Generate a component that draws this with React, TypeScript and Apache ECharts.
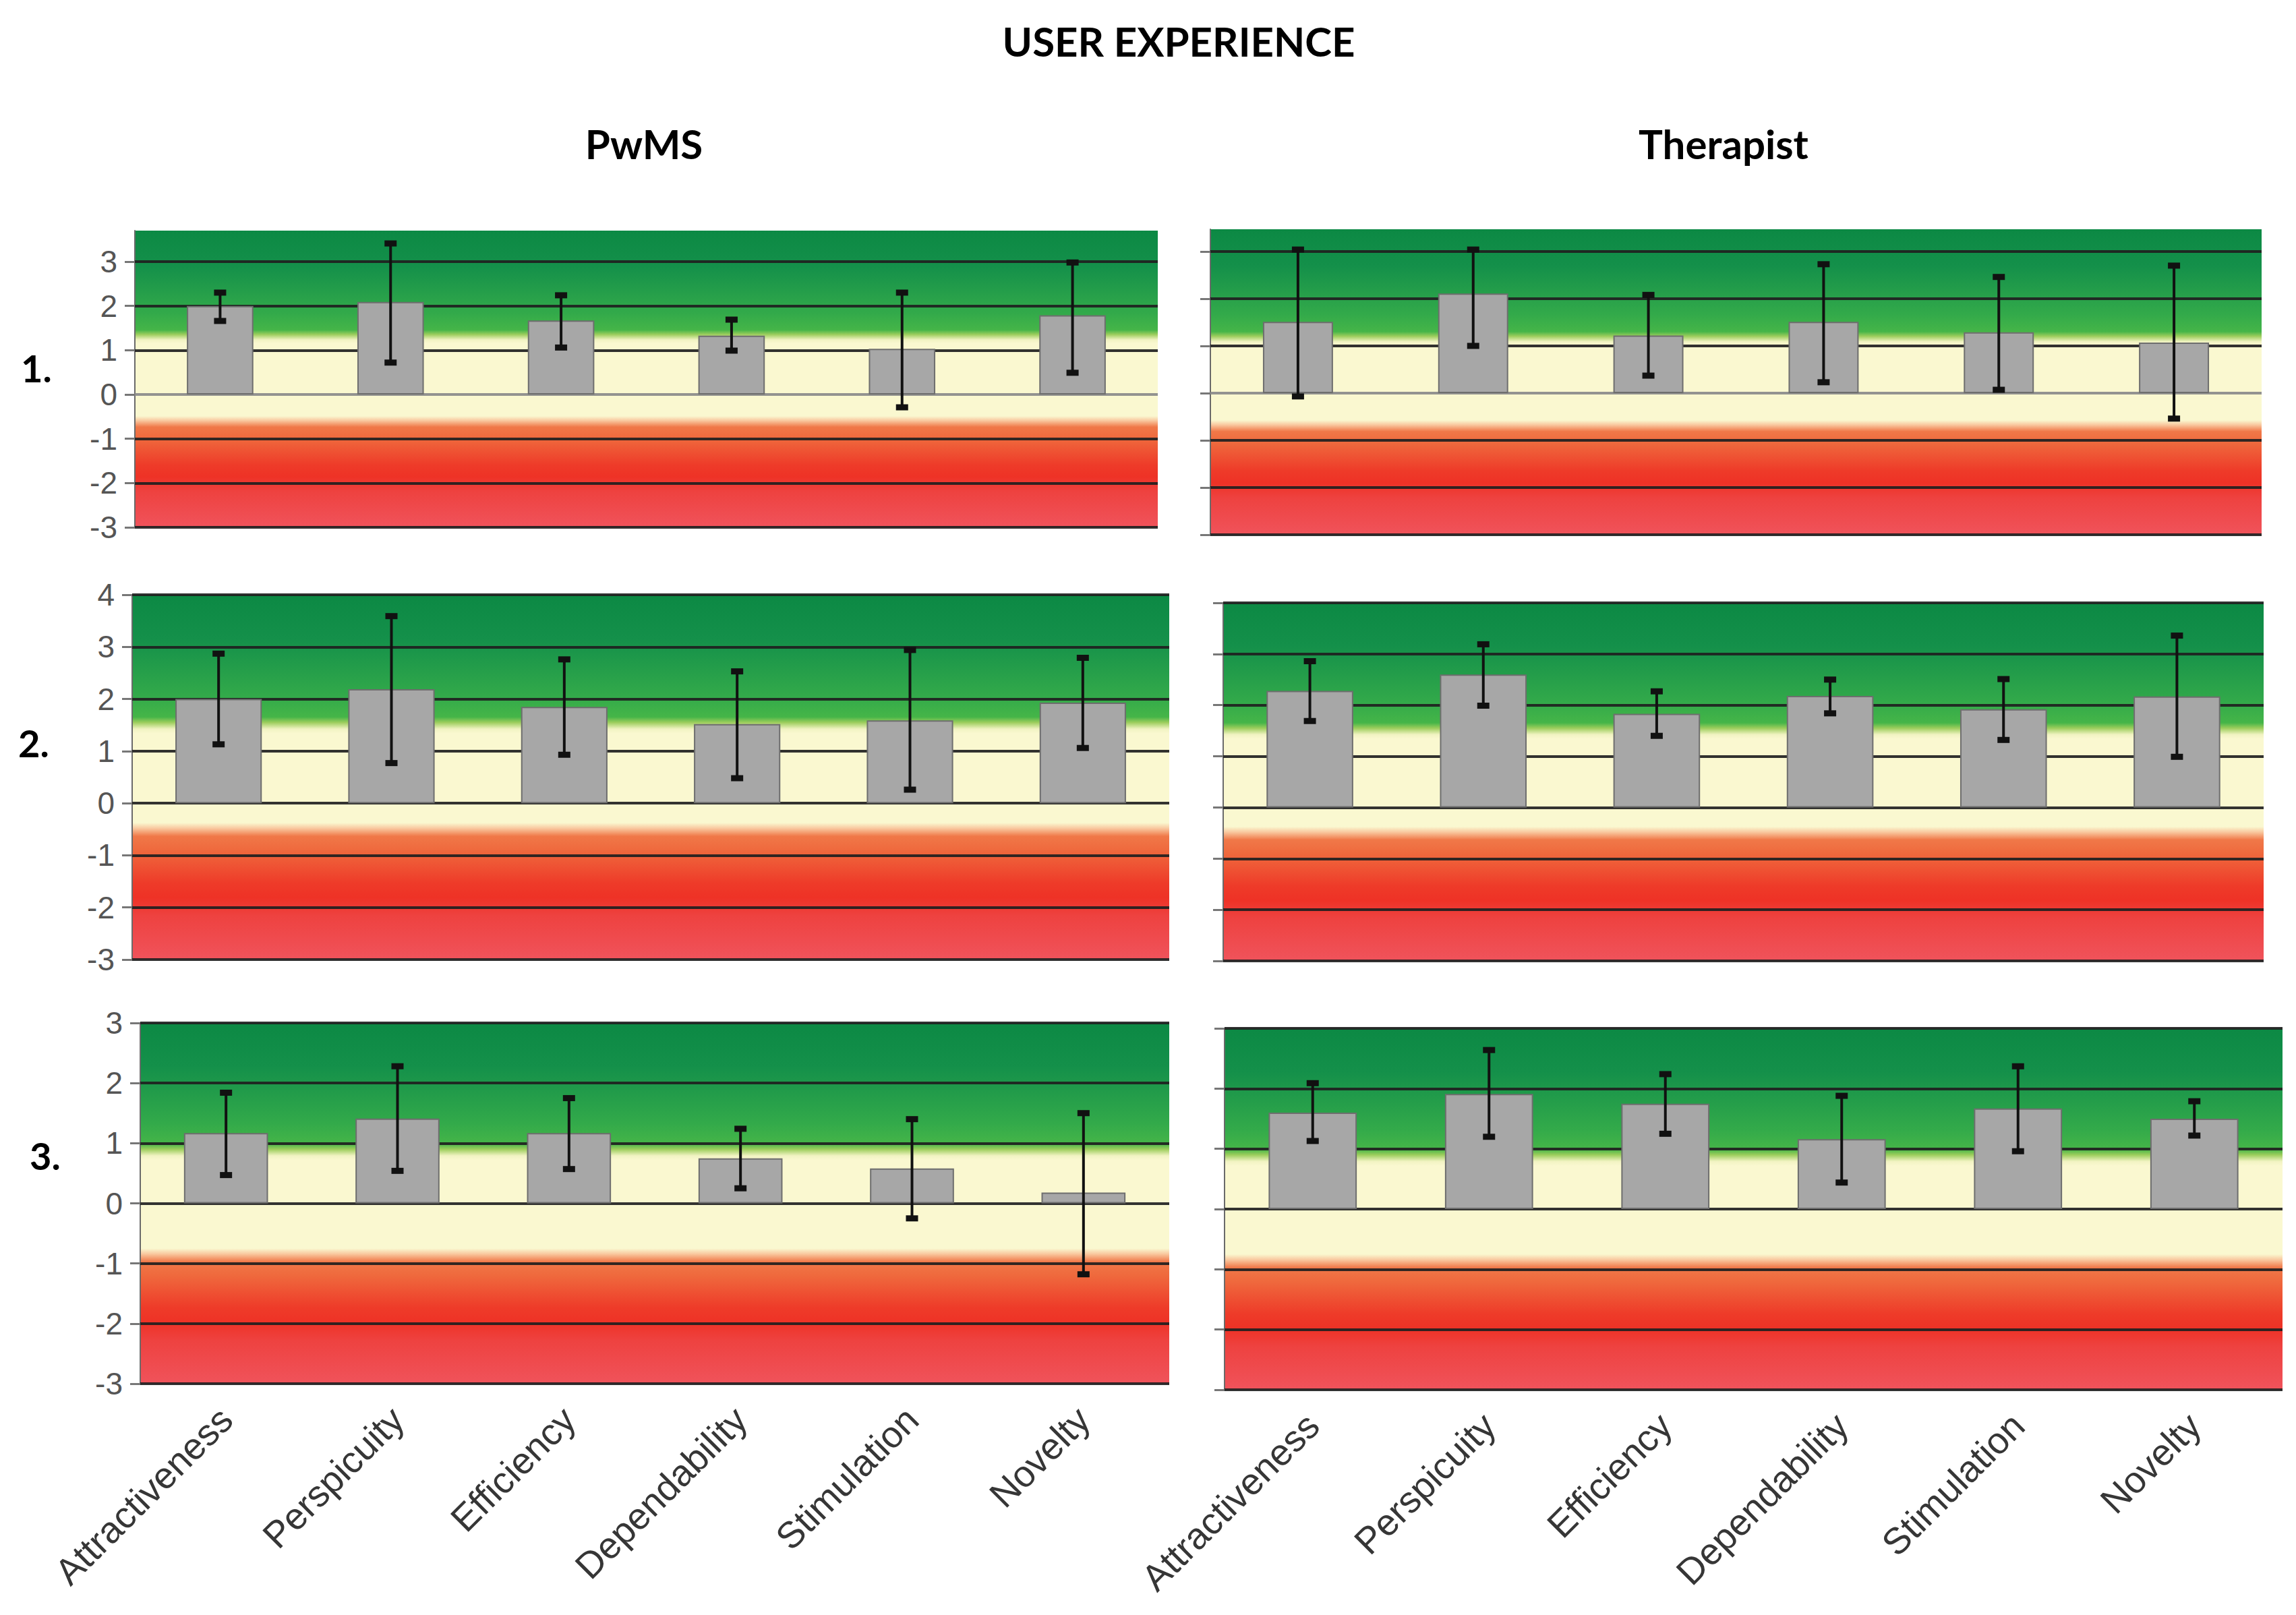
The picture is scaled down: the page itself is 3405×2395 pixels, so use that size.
import { useEffect, useRef } from "react";
import * as echarts from "echarts";

// UEQ scales
const CATEGORIES = ["Attractiveness", "Perspicuity", "Efficiency", "Dependability", "Stimulation", "Novelty"];

// row 1
const PWMS_1_MEAN = [2.0, 2.09, 1.67, 1.33, 1.03, 1.79];
const PWMS_1_LOW = [1.66, 0.72, 1.06, 0.99, -0.29, 0.49];
const PWMS_1_HIGH = [2.3, 3.41, 2.24, 1.69, 2.3, 2.98];
const THER_1_MEAN = [1.51, 2.11, 1.22, 1.51, 1.29, 1.07];
const THER_1_LOW = [-0.07, 1.0, 0.37, 0.23, 0.07, -0.54];
const THER_1_HIGH = [3.04, 3.04, 2.08, 2.73, 2.46, 2.7];

// row 2
const PWMS_2_MEAN = [2.0, 2.19, 1.85, 1.52, 1.59, 1.93];
const PWMS_2_LOW = [1.13, 0.77, 0.93, 0.48, 0.26, 1.06];
const PWMS_2_HIGH = [2.87, 3.59, 2.76, 2.53, 2.94, 2.79];
const THER_2_MEAN = [2.28, 2.6, 1.83, 2.18, 1.92, 2.17];
const THER_2_LOW = [1.69, 1.99, 1.4, 1.84, 1.32, 0.99];
const THER_2_HIGH = [2.86, 3.19, 2.27, 2.5, 2.51, 3.36];

// row 3
const PWMS_3_MEAN = [1.17, 1.41, 1.17, 0.75, 0.58, 0.18];
const PWMS_3_LOW = [0.47, 0.54, 0.57, 0.25, -0.25, -1.18];
const PWMS_3_HIGH = [1.84, 2.28, 1.75, 1.24, 1.4, 1.5];
const THER_3_MEAN = [1.6, 1.91, 1.75, 1.16, 1.67, 1.5];
const THER_3_LOW = [1.13, 1.2, 1.25, 0.44, 0.96, 1.22];
const THER_3_HIGH = [2.09, 2.64, 2.24, 1.88, 2.37, 1.79];

// y axes
const TICKS_3 = [-3, -2, -1, 0, 1, 2, 3];
const TICKS_4 = [-3, -2, -1, 0, 1, 2, 3, 4];
const Y_MAX_1L = 3.7;
const Y_MAX_1R = 3.47;
const Y_MAX_2 = 4;
const Y_MAX_3 = 3;

const TITLE = "USER EXPERIENCE";
const COLUMN_TITLES = ["PwMS", "Therapist"];
const ROW_LABELS = ["1.", "2.", "3."];

const TITLE_FONT = "Lato, 'Open Sans', sans-serif";
const AXIS_FONT = "'Liberation Sans', Arial, sans-serif";

type Panel = {
  mean: number[]; low: number[]; high: number[];
  max: number; ticks: number[];
  box: { left: number; top: number; width: number; height: number };
  barWidth: string; yLabels: boolean; xLabels: boolean; zeroColor: string;
};

const PANELS: Panel[] = [
  { mean: PWMS_1_MEAN, low: PWMS_1_LOW, high: PWMS_1_HIGH, max: Y_MAX_1L, ticks: TICKS_3,
    box: { left: 200, top: 342, width: 1517, height: 440 }, barWidth: "39%", yLabels: true, xLabels: false, zeroColor: "#8a8a8a" },
  { mean: THER_1_MEAN, low: THER_1_LOW, high: THER_1_HIGH, max: Y_MAX_1R, ticks: TICKS_3,
    box: { left: 1795, top: 340, width: 1559, height: 453 }, barWidth: "40%", yLabels: false, xLabels: false, zeroColor: "#8a8a8a" },
  { mean: PWMS_2_MEAN, low: PWMS_2_LOW, high: PWMS_2_HIGH, max: Y_MAX_2, ticks: TICKS_4,
    box: { left: 196, top: 882, width: 1538, height: 541 }, barWidth: "50%", yLabels: true, xLabels: false, zeroColor: "#222" },
  { mean: THER_2_MEAN, low: THER_2_LOW, high: THER_2_HIGH, max: Y_MAX_2, ticks: TICKS_4,
    box: { left: 1814, top: 894, width: 1543, height: 531 }, barWidth: "50%", yLabels: false, xLabels: false, zeroColor: "#222" },
  { mean: PWMS_3_MEAN, low: PWMS_3_LOW, high: PWMS_3_HIGH, max: Y_MAX_3, ticks: TICKS_3,
    box: { left: 208, top: 1517, width: 1526, height: 535 }, barWidth: "49%", yLabels: true, xLabels: true, zeroColor: "#222" },
  { mean: THER_3_MEAN, low: THER_3_LOW, high: THER_3_HIGH, max: Y_MAX_3, ticks: TICKS_3,
    box: { left: 1816, top: 1525, width: 1569, height: 536 }, barWidth: "50%", yLabels: false, xLabels: true, zeroColor: "#222" },
];

// background: green (good) / cream (neutral) / red (bad), fixed to the plot area
const bgGradient = () =>
  new echarts.graphic.LinearGradient(0, 0, 0, 1, [
    { offset: 0, color: "#0c8944" },
    { offset: 0.12, color: "#14904a" },
    { offset: 0.28, color: "#33aa4a" },
    { offset: 0.335, color: "#45b548" },
    { offset: 0.35, color: "#9ccd5c" },
    { offset: 0.368, color: "#f1f3c2" },
    { offset: 0.38, color: "#faf8d0" },
    { offset: 0.625, color: "#faf8d0" },
    { offset: 0.64, color: "#f9c9a0" },
    { offset: 0.662, color: "#f07848" },
    { offset: 0.7, color: "#ef693d" },
    { offset: 0.79, color: "#ee3b29" },
    { offset: 0.83, color: "#ee3226" },
    { offset: 0.88, color: "#ee4240" },
    { offset: 1, color: "#f0535b" },
  ]);

export default function App() {
  const ref = useRef<HTMLDivElement>(null);

  useEffect(() => {
    if (!ref.current) return;
    const inst = echarts.init(ref.current, undefined, { renderer: "svg" });

    const grid = PANELS.map(p => ({
      ...p.box, show: true, backgroundColor: bgGradient(), borderWidth: 0, containLabel: false,
    }));

    const xAxis = PANELS.map((p, i) => ({
      type: "category", data: CATEGORIES, gridIndex: i,
      axisLine: { show: false }, axisTick: { show: false },
      axisLabel: {
        show: p.xLabels, rotate: 45, margin: 44, interval: 0,
        fontFamily: AXIS_FONT, fontSize: 55, color: "#363636",
      },
      splitLine: { show: false },
    }));

    const yAxis = PANELS.map((p, i) => ({
      type: "value", gridIndex: i, min: -3, max: p.max,
      axisLine: { show: true, lineStyle: { color: "#6a6a6a", width: 2 } },
      axisTick: { show: true, length: 15, customValues: p.ticks, lineStyle: { color: "#777", width: 3 } },
      axisLabel: {
        show: p.yLabels, customValues: p.ticks, margin: 26,
        fontFamily: AXIS_FONT, fontSize: 46, color: "#555",
      },
      splitLine: { show: false },
    }));

    const series: any[] = [];
    PANELS.forEach((p, i) => {
      series.push({
        type: "bar", xAxisIndex: i, yAxisIndex: i, data: p.mean, barWidth: p.barWidth, z: 2,
        itemStyle: { color: "#a7a7a7", borderColor: "#6e6e6e", borderWidth: 2 },
        markLine: {
          silent: true, symbol: "none", z: 1, animation: false,
          label: { show: false },
          data: p.ticks.map(v => ({
            yAxis: v,
            lineStyle: { color: v === 0 ? p.zeroColor : "#1f1f1f", width: 4, type: "solid", opacity: 0.92 },
          })),
        },
      });
      series.push({
        type: "custom", xAxisIndex: i, yAxisIndex: i, z: 3,
        data: p.low.map((lo, k) => [k, lo, p.high[k]]),
        encode: { x: 0, y: [1, 2] },
        renderItem: (_params: any, api: any) => {
          const k = api.value(0);
          const top = api.coord([k, api.value(2)]);
          const bot = api.coord([k, api.value(1)]);
          const cw = 18, ch = 9;
          return {
            type: "group",
            children: [
              { type: "line", shape: { x1: top[0], y1: top[1], x2: bot[0], y2: bot[1] }, style: { stroke: "#111", lineWidth: 4 } },
              { type: "rect", shape: { x: top[0] - cw / 2, y: top[1] - ch / 2, width: cw, height: ch }, style: { fill: "#111" } },
              { type: "rect", shape: { x: bot[0] - cw / 2, y: bot[1] - ch / 2, width: cw, height: ch }, style: { fill: "#111" } },
            ],
          };
        },
      });
    });

    const bold = { fontFamily: TITLE_FONT, fontWeight: "bold", fill: "#000", align: "center", verticalAlign: "middle" };
    const rowY = [545, 1101, 1713];
    const rowX = [54, 50, 67];
    const graphic = [
      { type: "text", x: 1748, y: 61, style: { ...bold, text: TITLE, fontSize: 60 } },
      { type: "text", x: 955, y: 213, style: { ...bold, text: COLUMN_TITLES[0], fontSize: 60 } },
      { type: "text", x: 2556, y: 213, style: { ...bold, text: COLUMN_TITLES[1], fontSize: 60 } },
      ...ROW_LABELS.map((t, r) => ({ type: "text", x: rowX[r], y: rowY[r], style: { ...bold, text: t, fontSize: 56 } })),
    ];

    inst.setOption({
      animation: false,
      backgroundColor: "#fff",
      grid, xAxis, yAxis, series, graphic,
    });

    return () => inst.dispose();
  }, []);

  return (
    <>
      <style>{`body{margin:0}`}</style>
      <div ref={ref} style={{ width: 3405, height: 2395 }} />
    </>
  );
}
